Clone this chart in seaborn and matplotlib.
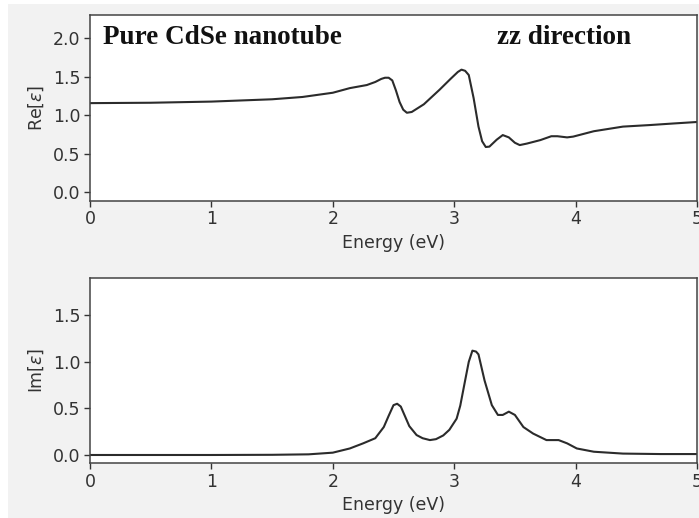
import matplotlib
matplotlib.use("Agg")
import matplotlib.pyplot as plt
import seaborn as sns
import numpy as np
import pandas as pd
from matplotlib.patches import Rectangle

# ---- data ----
re_energy = [0.0, 0.5, 1.0, 1.5, 1.75, 2.0, 2.14, 2.28, 2.35, 2.4, 2.43, 2.46, 2.49, 2.52,
             2.55, 2.58, 2.61, 2.65, 2.75, 2.88, 2.97, 3.03, 3.06, 3.09, 3.12, 3.16, 3.2,
             3.23, 3.26, 3.29, 3.35, 3.4, 3.45, 3.5, 3.54, 3.6, 3.71, 3.8, 3.85,
             3.93, 3.98, 4.15, 4.39, 4.61, 4.8, 5.0]
re_eps = [1.155, 1.16, 1.175, 1.205, 1.235, 1.29, 1.35, 1.39, 1.43, 1.47, 1.485, 1.485, 1.45, 1.32,
          1.17, 1.07, 1.03, 1.04, 1.14, 1.33, 1.47, 1.56, 1.59, 1.575, 1.52, 1.22, 0.85,
          0.66, 0.585, 0.59, 0.68, 0.74, 0.71, 0.64, 0.61, 0.63, 0.675, 0.725, 0.725,
          0.71, 0.72, 0.79, 0.85, 0.87, 0.89, 0.91]

im_energy = [0.0, 0.5, 1.0, 1.5, 1.8, 2.0, 2.14, 2.25, 2.35, 2.42, 2.46, 2.5, 2.53, 2.56,
             2.59, 2.63, 2.69, 2.74, 2.8, 2.85, 2.91, 2.96, 3.02, 3.05, 3.09, 3.12, 3.15,
             3.18, 3.2, 3.25, 3.31, 3.36, 3.4, 3.45, 3.5, 3.57, 3.65, 3.76, 3.86,
             3.93, 4.01, 4.15, 4.39, 4.7, 5.0]
im_eps = [0.0, 0.0, 0.0, 0.002, 0.007, 0.025, 0.07, 0.125, 0.18, 0.30, 0.42, 0.535, 0.55, 0.52,
          0.43, 0.31, 0.214, 0.18, 0.16, 0.17, 0.21, 0.27, 0.39, 0.53, 0.80, 1.0, 1.12,
          1.11, 1.08, 0.80, 0.535, 0.43, 0.43, 0.465, 0.43, 0.30, 0.23, 0.16, 0.16,
          0.125, 0.07, 0.035, 0.015, 0.01, 0.01]

xticks = [0, 1, 2, 3, 4, 5]
re_yticks = [0.0, 0.5, 1.0, 1.5, 2.0]
im_yticks = [0.0, 0.5, 1.0, 1.5]

sns.set_style("ticks")
plt.rcParams['font.family'] = ['DejaVu Sans']

W, H = 699, 518
fig = plt.figure(figsize=(W / 100, H / 100), dpi=100, facecolor="white")
fig.patches.append(Rectangle((8 / W, 0), 1, 1 - 4 / H, transform=fig.transFigure,
                             facecolor="#f2f2f2", edgecolor="none", zorder=-10))

def px_axes(l, t, r, b):
    return fig.add_axes([l / W, 1 - b / H, (r - l) / W, (b - t) / H])

ax1 = px_axes(90, 15, 697, 200.5)
ax2 = px_axes(90, 278, 697, 463)

line_col = "#2b2b2b"
txt_col = "#333333"
df_re = pd.DataFrame({"Energy (eV)": re_energy, "Re": re_eps})
df_im = pd.DataFrame({"Energy (eV)": im_energy, "Im": im_eps})
sns.lineplot(data=df_re, x="Energy (eV)", y="Re", ax=ax1, color=line_col, lw=1.5)
sns.lineplot(data=df_im, x="Energy (eV)", y="Im", ax=ax2, color=line_col, lw=1.5)

for ax, yt, ylim, lab in [(ax1, re_yticks, (-0.11, 2.3), r"Re[$\varepsilon$]"),
                          (ax2, im_yticks, (-0.086, 1.9), r"Im[$\varepsilon$]")]:
    ax.set_facecolor("white")
    ax.set_xlim(0, 5)
    ax.set_ylim(*ylim)
    ax.set_xticks(xticks)
    ax.set_yticks(yt)
    ax.set_yticklabels([f"{v:.1f}" for v in yt])
    ax.set_xlabel("Energy (eV)", fontsize=12.5, color=txt_col, labelpad=4)
    ax.set_ylabel(lab, fontsize=12.5, color=txt_col, labelpad=5)
    ax.tick_params(labelsize=12.5, colors=txt_col, length=4, width=1, direction="out", pad=3)
    for s in ax.spines.values():
        s.set_visible(True)
        s.set_color("#444444")
        s.set_linewidth(1.1)

ax1.text(0.107, 1.92, "Pure CdSe nanotube", fontfamily="Liberation Serif",
         fontweight="bold", fontsize=19.5, color="#111111", va="baseline")
ax1.text(3.35, 1.92, "zz direction", fontfamily="Liberation Serif",
         fontweight="bold", fontsize=19.5, color="#111111", va="baseline")

fig.savefig("out.png", dpi=100, facecolor=fig.get_facecolor())
